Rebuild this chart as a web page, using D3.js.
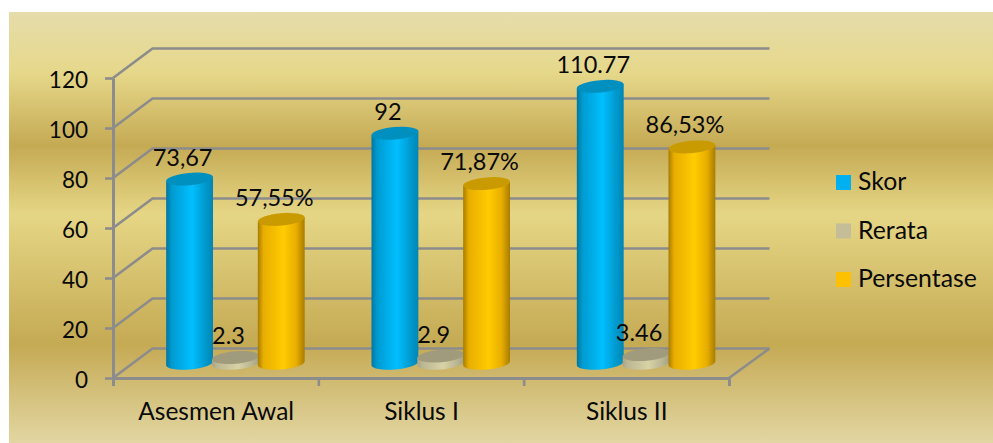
<!DOCTYPE html>
<html><head><meta charset="utf-8">
<style>html,body{margin:0;padding:0;background:#fff}svg{display:block}text{font-family:Lato,"Open Sans",sans-serif;fill:#0a0a0a}</style>
<script src="https://cdn.jsdelivr.net/npm/d3@7"></script></head>
<body><div id="c"></div>
<script>
const categories = ["Asesmen Awal", "Siklus I", "Siklus II"];
const seriesNames = ["Skor", "Rerata", "Persentase"];
const skor = [73.67, 92, 110.77];
const rerata = [2.3, 2.9, 3.46];
const persentase = [57.55, 71.87, 86.53];
const skorLabels = ["73,67", "92", "110.77"];
const rerataLabels = ["2.3", "2.9", "3.46"];
const persentaseLabels = ["57,55%", "71,87%", "86,53%"];
const yTicks = [0, 20, 40, 60, 80, 100, 120];
const legendColors = ["#00b0f0", "#c4bd97", "#ffc000"];

(function () {
const W = 993, H = 443;
const pL = 113, pR = 729, pB = 378, pT = 78, dx = 39.5, dy = -29.5;
const svg = d3.select("#c").append("svg").attr("width", W).attr("height", H);
const defs = svg.append("defs");

const bg = defs.append("linearGradient").attr("id", "bg").attr("x1", 0).attr("y1", 0).attr("x2", 0).attr("y2", 1);
[[0, "#e6dcab"], [0.14, "#e6d88a"], [0.31, "#c5aa54"], [0.47, "#e5d685"], [0.77, "#c5aa54"], [1, "#e2d6a2"]]
  .forEach(s => bg.append("stop").attr("offset", s[0]).attr("stop-color", s[1]));
svg.append("rect").attr("x", 9).attr("y", 12).attr("width", W - 9).attr("height", H - 12).attr("fill", "url(#bg)");

const y = d3.scaleLinear().domain([0, 120]).range([pB, pT]);
const x0 = d3.scaleBand().domain(categories).range([pL, pR]);
const x1 = d3.scaleBand().domain(seriesNames).range([0, x0.bandwidth()]).paddingInner(0).paddingOuter(0.74);
const grey = "#8c8c8c";

// walls
const grid = svg.append("g").attr("stroke", grey).attr("stroke-width", 2.6).attr("fill", "none");
yTicks.forEach(t => {
  grid.append("path").attr("d", d3.line()([[pL, y(t)], [pL + dx, y(t) + dy], [pR + dx + 1, y(t) + dy]]));
});
grid.append("path").attr("d", d3.line()([[pR, pB], [pR + dx + 1, pB + dy]]));

// axes
const axY = svg.append("g").attr("transform", `translate(${pL},0)`)
  .call(d3.axisLeft(y).tickValues(yTicks).tickSize(8).tickPadding(17).tickSizeOuter(0));
const axX = svg.append("g").attr("transform", `translate(0,${pB})`)
  .call(d3.axisBottom(d3.scalePoint().domain(d3.range(categories.length + 1)).range([pL, pR])).tickSize(8).tickFormat(""));
[axY, axX].forEach(a => {
  a.selectAll("path.domain").attr("stroke", grey).attr("stroke-width", 3);
  a.selectAll("line").attr("stroke", grey).attr("stroke-width", 2.6);
});
axY.selectAll("text").style("font-size", "22.5px").attr("fill", "#0a0a0a").attr("dy", "0.4em");
axX.selectAll("text").remove();
svg.append("g").selectAll("text").data(categories).join("text")
  .attr("x", d => x0(d) + x0.bandwidth() / 2 + 0.5)
  .attr("y", 420).attr("text-anchor", "middle").style("font-size", "24.5px").text(d => d);

// cylinders
function grad(id, a, b, c, d) {
  const g = defs.append("linearGradient").attr("id", id);
  [[0, a], [0.12, b], [0.55, c], [0.82, b], [1, d]].forEach(s => g.append("stop").attr("offset", s[0]).attr("stop-color", s[1]));
}
grad("g0", "#00779f", "#009bd0", "#00bfff", "#0086b4");
grad("g1", "#a9a585", "#bdb894", "#d8d2a6", "#a5a183");
grad("g2", "#a87c00", "#e8ae00", "#ffcc00", "#a87c00");
const tops = ["#0090bf", "#a09b7c", "#c99b00"];
const rx = x1.bandwidth() / 2 + 0.6, ry = 6.2, tilt = 5, rad = tilt * Math.PI / 180;
const cosR = rx * Math.cos(rad), sinR = rx * Math.sin(rad);
const baseY = y(0) + dy / 2;
const h = v => y(0) - y(v);

const seriesValues = [skor, rerata, persentase];
const seriesLabels = [skorLabels, rerataLabels, persentaseLabels];
const marks = svg.append("g");
const labels = svg.append("g");
categories.forEach((cat, i) => {
  seriesNames.forEach((name, s) => {
    const v = seriesValues[s][i];
    const cx = x0(cat) + x1(name) + x1.bandwidth() / 2 + dx / 2;
    const ty = baseY - h(v);
    marks.append("path").attr("fill", `url(#g${s})`)
      .attr("d", `M${cx - cosR},${ty + sinR}L${cx - cosR},${baseY + sinR}A${rx},${ry} ${-tilt} 0 0 ${cx + cosR},${baseY - sinR}L${cx + cosR},${ty - sinR}Z`);
    marks.append("ellipse").attr("cx", cx).attr("cy", ty).attr("rx", rx).attr("ry", ry)
      .attr("transform", `rotate(${-tilt} ${cx} ${ty})`).attr("fill", tops[s]);
    labels.append("text").attr("x", cx - 7).attr("y", ty - 13.5).attr("text-anchor", "middle")
      .style("font-size", "23.5px").text(seriesLabels[s][i]);
  });
});

// legend
const legendY = d3.scalePoint().domain(seriesNames).range([182.5, 279.5]);
const leg = svg.append("g").selectAll("g").data(seriesNames).join("g")
  .attr("transform", d => `translate(836,${legendY(d)})`);
leg.append("rect").attr("y", -7.5).attr("width", 15).attr("height", 15).attr("fill", (d, i) => legendColors[i]);
leg.append("text").attr("x", 22).attr("y", 7.5).style("font-size", "24.8px").text(d => d);
})();
</script></body></html>
